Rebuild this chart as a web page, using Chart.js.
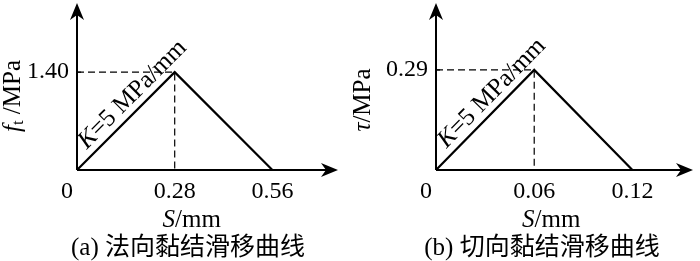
<!DOCTYPE html>
<html>
<head>
<meta charset="utf-8">
<script src="https://cdn.jsdelivr.net/npm/chart.js@4.4.0/dist/chart.umd.min.js"></script>
<style>
  html, body { margin: 0; padding: 0; background: #fff; }
  #wrap { position: relative; width: 700px; height: 261px; }
  .painel { position: absolute; top: 0; width: 350px; height: 261px; }
</style>
</head>
<body>
<div id="wrap">
  <div class="painel" style="left:0"><canvas id="chart-normal" width="350" height="261"></canvas></div>
  <div class="painel" style="left:350px"><canvas id="chart-shear" width="350" height="261"></canvas></div>
</div>
<script>
// Dados
const slipNormal = [0, 0.28, 0.56];
const stressNormal = [0, 1.40, 0];
const xTickNormal = [0, 0.28, 0.56];
const xTickLabelsNormal = ["0", "0.28", "0.56"];
const yTickNormal = [1.40];
const yTickLabelsNormal = ["1.40"];

const slipShear = [0, 0.06, 0.12];
const stressShear = [0, 0.29, 0];
const xTickShear = [0, 0.06, 0.12];
const xTickLabelsShear = ["0", "0.06", "0.12"];
const yTickShear = [0.29];
const yTickLabelsShear = ["0.29"];

const serif = '"Liberation Serif", "Times New Roman", serif';
const cjk = '"Liberation Serif", "Noto Sans CJK SC", serif';

function seta(ctx, x, y, ang) {
  ctx.save();
  ctx.translate(x, y);
  ctx.rotate(ang);
  ctx.beginPath();
  ctx.moveTo(0, 0);
  ctx.lineTo(-17, -7);
  ctx.lineTo(-12, 0);
  ctx.lineTo(-17, 7);
  ctx.closePath();
  ctx.fill();
  ctx.restore();
}

// desenha pedaços de texto [texto, fonte, deslocamento y] centrados em (0,0)
function textoMisto(ctx, partes) {
  let total = 0;
  partes.forEach((p) => { ctx.font = p[1]; total += ctx.measureText(p[0]).width; });
  let x = -total / 2;
  partes.forEach((p) => {
    ctx.font = p[1];
    ctx.fillText(p[0], x, p[2] || 0);
    x += ctx.measureText(p[0]).width;
  });
}

function criarGrafico(id, cfg) {
  const eixos = {
    id: "eixos",
    afterDatasetsDraw(chart) {
      const ctx = chart.ctx;
      const sx = chart.scales.x, sy = chart.scales.y;
      const x0 = sx.getPixelForValue(0), y0 = sy.getPixelForValue(0);
      const area = chart.chartArea;
      ctx.save();
      ctx.strokeStyle = "#000";
      ctx.fillStyle = "#000";
      ctx.lineWidth = 2;
      ctx.beginPath();
      ctx.moveTo(x0, y0); ctx.lineTo(area.right - 6, y0);
      ctx.moveTo(x0, y0); ctx.lineTo(x0, area.top + 6);
      ctx.stroke();
      seta(ctx, area.right, y0, 0);
      seta(ctx, x0, area.top, -Math.PI / 2);

      // marcas do eixo y
      ctx.lineWidth = 1.2;
      cfg.yTicks.forEach((v) => {
        const py = sy.getPixelForValue(v);
        ctx.beginPath(); ctx.moveTo(x0, py); ctx.lineTo(x0 + 4, py); ctx.stroke();
      });

      // rótulos
      ctx.font = "24px " + serif;
      ctx.textBaseline = "middle";
      ctx.textAlign = "center";
      cfg.xTicks.forEach((v, i) => {
        const px = sx.getPixelForValue(v) + (v === 0 ? -10 : 0);
        ctx.fillText(cfg.xLabels[i], px, y0 + 22);
      });
      ctx.textAlign = "right";
      cfg.yTicks.forEach((v, i) => {
        ctx.fillText(cfg.yLabels[i], x0 - 8, sy.getPixelForValue(v));
      });

      // título do eixo x
      ctx.textAlign = "left";
      ctx.save();
      ctx.translate(sx.getPixelForValue(cfg.peakX) + 17, y0 + 50);
      textoMisto(ctx, [["S", "italic 25px " + serif], ["/mm", "25px " + serif]]);
      ctx.restore();

      // título do eixo y
      ctx.save();
      ctx.translate(cfg.yTitleX, cfg.yTitleY);
      ctx.rotate(-Math.PI / 2);
      textoMisto(ctx, cfg.yTitle);
      ctx.restore();

      // inclinação K
      const p0 = { x: x0, y: y0 };
      const p1 = { x: sx.getPixelForValue(cfg.peakX), y: sy.getPixelForValue(cfg.peakY) };
      const ang = Math.atan2(p1.y - p0.y, p1.x - p0.x);
      const f = 0.67;
      const cx = p0.x + f * (p1.x - p0.x) + 14 * Math.sin(ang);
      const cy = p0.y + f * (p1.y - p0.y) - 14 * Math.cos(ang);
      ctx.save();
      ctx.translate(cx, cy);
      ctx.rotate(ang);
      textoMisto(ctx, [["K", "italic 25px " + serif], ["=5 MPa/mm", "25px " + serif]]);
      ctx.restore();

      // legenda inferior
      ctx.textAlign = "center";
      ctx.font = "25px " + cjk;
      ctx.fillText(cfg.caption, cfg.captionX, 248);
      ctx.restore();
    },
  };

  return new Chart(document.getElementById(id), {
    type: "line",
    data: {
      datasets: [
        {
          data: cfg.slip.map((s, i) => ({ x: s, y: cfg.stress[i] })),
          borderColor: "#000",
          borderWidth: 2.2,
          pointRadius: 0,
          tension: 0,
          clip: false,
        },
        {
          data: [
            { x: 0, y: cfg.peakY },
            { x: cfg.peakX, y: cfg.peakY },
            { x: cfg.peakX, y: 0 },
          ],
          borderColor: "#000",
          borderWidth: 1.2,
          borderDash: [7, 4],
          pointRadius: 0,
          tension: 0,
          clip: false,
        },
      ],
    },
    options: {
      responsive: false,
      animation: false,
      layout: { padding: cfg.padding },
      scales: {
        x: { type: "linear", min: 0, max: cfg.xMax, display: false },
        y: { type: "linear", min: 0, max: cfg.yMax, display: false },
      },
      plugins: { legend: { display: false }, tooltip: { enabled: false } },
    },
    plugins: [eixos],
  });
}

criarGrafico("chart-normal", {
  slip: slipNormal,
  stress: stressNormal,
  peakX: slipNormal[1],
  peakY: stressNormal[1],
  xTicks: xTickNormal,
  xLabels: xTickLabelsNormal,
  yTicks: yTickNormal,
  yLabels: yTickLabelsNormal,
  xMax: 0.748,
  yMax: 2.39,
  padding: { left: 77, right: 12, top: 3, bottom: 91 },
  yTitle: [["f", "italic 25px " + serif], ["t", "17px " + serif, 6], [" /MPa", "25px " + serif]],
  yTitleX: 13,
  yTitleY: 96,
  caption: "(a) 法向黏结滑移曲线",
  captionX: 188,
});

criarGrafico("chart-shear", {
  slip: slipShear,
  stress: stressShear,
  peakX: slipShear[1],
  peakY: stressShear[1],
  xTicks: xTickShear,
  xLabels: xTickLabelsShear,
  yTicks: yTickShear,
  yLabels: yTickLabelsShear,
  xMax: 0.157,
  yMax: 0.484,
  padding: { left: 86, right: 7, top: 3, bottom: 91 },
  yTitle: [["τ", "italic 25px " + serif], ["/MPa", "25px " + serif]],
  yTitleX: 13,
  yTitleY: 100,
  caption: "(b) 切向黏结滑移曲线",
  captionX: 192,
});
</script>
</body>
</html>
